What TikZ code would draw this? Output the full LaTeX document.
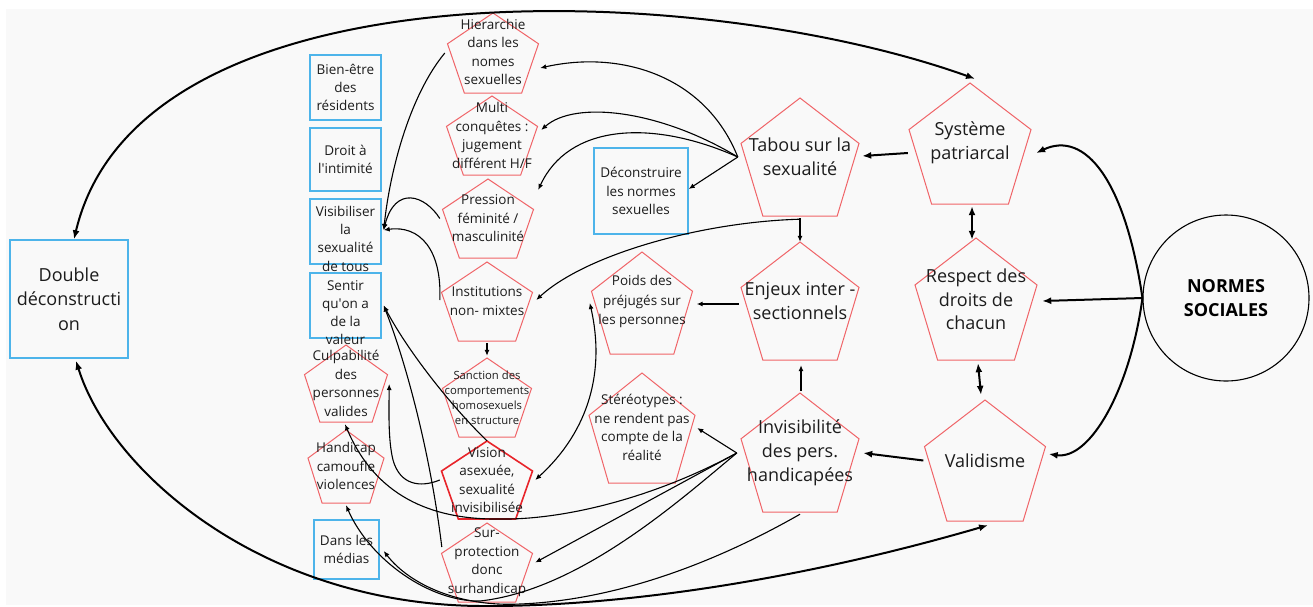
\documentclass[tikz,border=0pt]{standalone}
\usepackage{fontspec}
\setmainfont{Open Sans}
\usetikzlibrary{arrows.meta,calc}
\definecolor{bgc}{HTML}{F9F9F9}
\definecolor{pred}{HTML}{F06468}
\definecolor{vred}{HTML}{E8242A}
\definecolor{pblue}{HTML}{4DB4EA}
\definecolor{ink}{HTML}{1C1C1C}
\tikzset{
  pentline/.style={draw=pred, line width=1pt, line join=miter},
  bluebox/.style={draw=pblue, line width=1.4pt, inner sep=0pt, text=ink, align=center},
  txt/.style={text=ink, align=center, inner sep=0pt},
  smalltxt/.style={font=\fontsize{13.5}{18.5}\selectfont},
  bigtxt/.style={font=\fontsize{18}{24}\selectfont},
  thinarr/.style={draw=black, line width=1.1pt, -{Latex[length=6pt,width=5pt]}},
  thinboth/.style={draw=black, line width=1.1pt, {Latex[length=6pt,width=5pt]}-{Latex[length=6pt,width=5pt]}},
  thickarr/.style={draw=black, line width=2pt, -{Latex[length=9pt,width=7pt]}},
  thickboth/.style={draw=black, line width=2pt, {Latex[length=9pt,width=7pt]}-{Latex[length=9pt,width=7pt]}},
}
\newcommand\pentagon[6][]{%
  \draw[pentline,#1] (#3,#4) -- ({#3+0.5*#5},{#4+0.385*#6}) -- ({#3+0.315*#5},{#4+#6})
     -- ({#3-0.315*#5},{#4+#6}) -- ({#3-0.5*#5},{#4+0.385*#6}) -- cycle;
  \node[inner sep=0pt, minimum width=#5, minimum height=#6] (#2) at (#3,{#4+0.5*#6}) {};
}
\begin{document}
\begin{tikzpicture}[x=1pt,y=-1pt]
\useasboundingbox (0,0) rectangle (1313,606);
\fill[white] (0,0) rectangle (1313,606);
\fill[bgc] (6,9) rectangle (1313,605);

% ---- pentagons
\pentagon{hier}{493}{13}{91}{80}
\pentagon{multi}{492}{96}{91}{79}
\pentagon{press}{488}{179}{91}{79}
\pentagon{inst}{487}{262}{91}{79}
\pentagon{sanc}{487}{358}{89}{79}
\pentagon[draw=vred, line width=1.6pt]{vision}{487}{441}{91}{78}
\pentagon{surp}{487}{523}{91}{79}
\pentagon{culp}{346}{345}{83}{77}
\pentagon{hand}{346}{430}{76}{73}
\pentagon{poids}{642}{252}{101}{102}
\pentagon{stereo}{642}{373}{106}{110}
\pentagon{tabou}{800}{98}{118}{118}
\pentagon{enjeux}{800}{242}{118}{118}
\pentagon{invis}{800}{393}{118}{119}
\pentagon{syst}{970}{83}{122}{121}
\pentagon{resp}{976}{238}{122}{122}
\pentagon{valid}{985}{400}{121}{121}

% ---- pentagon texts
\node[txt,smalltxt] (hier-t) at (493,52) {Hierarchie\\dans les\\nomes\\sexuelles};
\node[txt,smalltxt] (multi-t) at (492,135.5) {Multi\\conquêtes :\\jugement\\différent H/F};
\node[txt,smalltxt] (press-t) at (488,218.5) {Pression\\féminité /\\masculinité};
\node[txt,smalltxt] (inst-t) at (487,301) {Institutions\\non- mixtes};
\node[txt,font=\fontsize{11.3}{15}\selectfont] (sanc-t) at (487,397.5) {Sanction des\\comportements\\homosexuels\\en structure};
\node[txt,smalltxt] (vision-t) at (487,480) {Vision\\asexuée,\\sexualité\\invisibilisée};
\node[txt,smalltxt] (surp-t) at (487,562) {Sur-\\protection\\donc\\surhandicap};
\node[txt,smalltxt] (culp-t) at (346,383.5) {Culpabilité\\des\\personnes\\valides};
\node[txt,smalltxt] (hand-t) at (346,466) {Handicap\\camoufle\\violences};
\node[txt,font=\fontsize{13.5}{19.5}\selectfont] (poids-t) at (642,301.5) {Poids des\\préjugés sur\\les personnes};
\node[txt,smalltxt] (stereo-t) at (642,427.5) {Stéréotypes :\\ne rendent pas\\compte de la\\réalité};
\node[txt,bigtxt] (tabou-t) at (800,156.5) {Tabou sur la\\sexualité};
\node[txt,bigtxt] (enjeux-t) at (800,301) {Enjeux inter -\\sectionnels};
\node[txt,bigtxt] (invis-t) at (800,453) {Invisibilité\\des pers.\\handicapées};
\node[txt,bigtxt] (syst-t) at (970,143) {Système\\patriarcal};
\node[txt,font=\fontsize{18}{23.5}\selectfont] (resp-t) at (976,299.5) {Respect des\\droits de\\chacun};
\node[txt,bigtxt] (valid-t) at (985,461) {Validisme};

% ---- blue boxes
\node[bluebox, minimum width=118, minimum height=118, font=\fontsize{18}{24.5}\selectfont] (dbl) at (69,299) {Double\\déconstructi\\on};
\node[bluebox, minimum width=71, minimum height=65, font=\fontsize{13.5}{18}\selectfont] (bien) at (345.5,87.5) {Bien-être\\des\\résidents};
\node[bluebox, minimum width=71, minimum height=63, font=\fontsize{13.5}{18}\selectfont] (droit) at (345.5,159.5) {Droit à\\l\textquotesingle intimité};
\node[bluebox, minimum width=71, minimum height=65] (visi) at (345.5,231.5) {};
\node[txt,font=\fontsize{13.5}{18.3}\selectfont] (visi-t) at (345.5,238.5) {Visibiliser\\la\\sexualité\\de tous};
\node[bluebox, minimum width=71, minimum height=65] (sentir) at (345.5,305.5) {};
\node[txt,font=\fontsize{13.5}{18}\selectfont] (sentir-t) at (345.5,313) {Sentir\\qu\textquotesingle on a\\de la\\valeur};
\node[bluebox, minimum width=65, minimum height=59, font=\fontsize{13.5}{18}\selectfont] (medias) at (346.5,549.5) {Dans les\\médias};
\node[bluebox, minimum width=94, minimum height=86, font=\fontsize{13.5}{18.5}\selectfont] (decon) at (641,191) {Déconstruire\\les normes\\sexuelles};

% ---- circle
\node[draw=black, line width=1.1pt, circle, minimum size=166, inner sep=0pt, align=center, text=black,
      font=\bfseries\fontsize{18}{24}\selectfont] (normes) at (1226,298) {NORMES\\SOCIALES};

% ---- thick connectors
\draw[thickboth] ($(dbl.north)+(5,0)$) .. controls (140,-40) and (700,-20) .. ($(syst.north)+(5,-4)$);
\draw[thickboth] ($(dbl.south)+(7,2)$) .. controls (110,470) and (260,604) .. (480,606)
   .. controls (620,607) and (800,580) .. ($(valid.south)+(3,4)$);
\draw[thickarr] (normes.west) .. controls (1125,180) and (1085,130) .. ($(syst.east)+(5,9.5)$);
\draw[thickarr] (normes.west) -- ($(resp.east)+(5,2)$);
\draw[thickarr] (normes.west) .. controls (1130,390) and (1090,460) .. ($(valid.east)+(3,-6.5)$);
\draw[thickboth] ($(syst.south)+(2,2)$) -- ($(resp.north)+(-4,2)$);
\draw[thickboth] ($(resp.south)+(2,3)$) -- ($(valid.north)+(-4,-5)$);
\draw[thickarr] ($(syst.west)+(-1,9.5)$) -- ($(tabou.east)+(3,-1)$);
\draw[thickarr] ($(valid.west)+(-1,0)$) -- ($(invis.east)+(4,0.5)$);

% ---- thin connectors
\coordinate (tfan) at ($(tabou.west)+(-3,0)$);
\coordinate (ifan) at ($(invis.west)+(-4,0.5)$);
\draw[thinarr] (tfan) .. controls (705,75) and (620,50) .. ($(hier.east)+(1.5,15)$);
\draw[thinarr] (tfan) .. controls (660,110) and (575,100) .. ($(multi.east)+(3.5,-5.5)$);
\draw[thinarr] (tfan) .. controls (650,118) and (568,125) .. ($(press.east)+(4.5,-28.5)$);
\draw[thinarr] (tfan) -- ($(decon.east)+(0,-2)$);
\draw[thinarr] ($(tabou.south)+(0,2)$) -- (enjeux.north);
\draw[thinarr] ($(tabou.south)+(0,3)$) .. controls (700,222) and (585,255) .. ($(inst.east)+(3.5,-1.5)$);
\draw[thinarr] ($(enjeux.west)+(-2,3)$) -- ($(poids.east)+(4,1)$);
\draw[thinarr] ($(invis.north)+(1,-2)$) -- ($(enjeux.south)+(1,5)$);
\draw[thinarr] (ifan) -- ($(stereo.east)+(2,0)$);
\draw[thinarr] (ifan) -- ($(surp.east)+(2.5,0)$);
\draw[thinarr] (ifan) .. controls (650,500) and (560,520) .. (500,519)
   .. controls (430,520) and (375,495) .. ($(culp.south)+(-1,2)$);
\draw[thinarr] (ifan) .. controls (680,500) and (580,590) .. (480,601)
   .. controls (430,602) and (370,560) .. ($(hand.south)+(0,2)$);
\draw[thinarr] ($(invis.south)+(0,2)$) .. controls (720,560) and (620,600) .. (520,604)
   .. controls (460,607) and (410,585) .. ($(medias.east)+(4,1.5)$);
\draw[thinarr] ($(hier.west)+(-2.5,0)$) .. controls (410,95) and (390,170) .. ($(visi.east)+(2,-1.5)$);
\draw[thinarr] ($(press.west)+(-2.5,0)$) .. controls (425,195) and (395,185) .. ($(visi.east)+(2,-1.5)$);
\draw[thinarr] ($(inst.west)+(-1.5,-1.5)$) .. controls (442,250) and (420,225) .. ($(visi.east)+(2,-1.5)$);
\draw[thinarr] ($(inst.south)+(0,2)$) -- ($(sanc.north)+(0,-2)$);
\draw[thinarr] (vision.north) .. controls (455,410) and (410,355) .. ($(sentir.east)+(2,0)$);
\draw[thinarr] ($(surp.west)+(0.5,-15.5)$) .. controls (430,450) and (405,360) .. ($(sentir.east)+(2,0)$);
\draw[thinarr] ($(vision.west)+(-1.5,0)$) .. controls (420,488) and (400,485) .. (393,460)
   .. controls (388,440) and (389,410) .. ($(culp.east)+(1.5,0.5)$);
\draw[thinboth] ($(poids.west)+(-1.5,0)$) .. controls (605,370) and (590,430) .. ($(vision.east)+(2.5,0)$);
\end{tikzpicture}
\end{document}
